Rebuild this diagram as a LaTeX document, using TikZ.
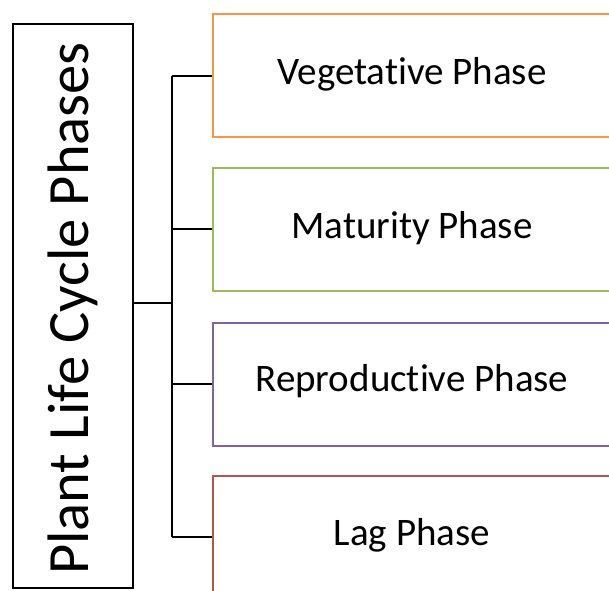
\documentclass[tikz,border=0pt]{standalone}
\usepackage{fontspec}
\setmainfont{Carlito}[Ligatures=NoCommon]
\definecolor{corange}{HTML}{F79646}
\definecolor{cgreen}{HTML}{9BBB59}
\definecolor{cpurple}{HTML}{8064A2}
\definecolor{cred}{HTML}{C0504D}
\begin{document}
\begin{tikzpicture}[x=1pt,y=-1pt,
  phase/.style={draw, line width=2pt, minimum width=400pt, minimum height=123pt, anchor=north west, inner sep=0pt},
  lbl/.style={font=\fontsize{39}{44}\selectfont, inner sep=0pt},
  conn/.style={draw, line width=2pt}]
\useasboundingbox (0,0) rectangle (609,590);
\clip (0,0) rectangle (609,590);
\node[draw, line width=2pt, minimum width=120pt, minimum height=564pt, anchor=north west, inner sep=0pt] (main) at (12,23) {};
\node[rotate=90, font=\fontsize{58.5}{64}\selectfont, inner sep=0pt] (maintext) at (73,308.5) {Plant Life Cycle Phases};
\node[phase, draw=corange] (p1) at (212,13) {};
\node[phase, draw=cgreen] (p2) at (212,166.5) {};
\node[phase, draw=cpurple] (p3) at (212,321.5) {};
\node[phase, draw=cred] (p4) at (212,474.5) {};
\node[lbl] (t1) at (412,74) {Vegetative Phase};
\node[lbl] (t2) at (412,228) {Maturity Phase};
\node[lbl] (t3) at (412,381) {Reproductive Phase};
\node[lbl] (t4) at (412,535) {Lag Phase};
\coordinate (jx) at (172,303);
\draw[conn] (main.east |- jx) -- (jx);
\draw[conn] (jx |- p1.west) -- (jx |- p4.west);
\draw[conn] (jx |- p1.west) -- (p1.west);
\draw[conn] (jx |- p2.west) -- (p2.west);
\draw[conn] (jx |- p3.west) -- (p3.west);
\draw[conn] (jx |- p4.west) -- (p4.west);
\end{tikzpicture}
\end{document}
